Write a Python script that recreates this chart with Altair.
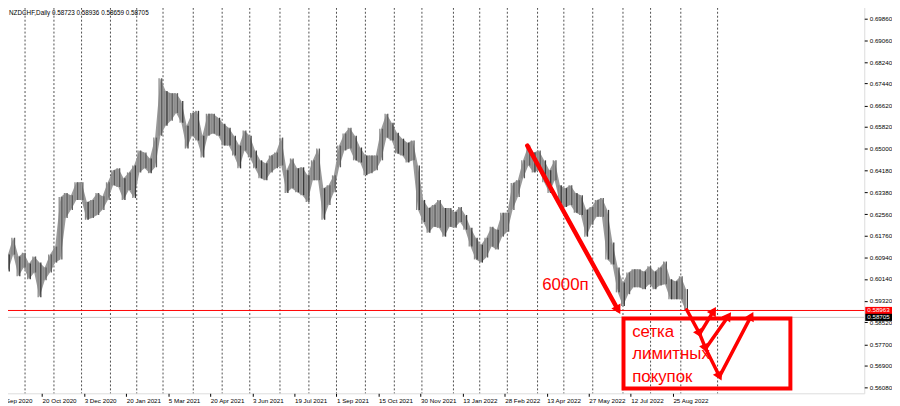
import math
import altair as alt
import pandas as pd

# ---- price data: high / low of consecutive 4-day groups of daily bars
hi = [0.6142, 0.6105, 0.6168, 0.6098, 0.6112, 0.6072, 0.6098, 0.6075, 0.6057, 0.6105,
      0.6135, 0.6320, 0.6335, 0.6327, 0.6375, 0.6375, 0.6301, 0.6309, 0.6335, 0.6323,
      0.6375, 0.6420, 0.6427, 0.6390, 0.6412, 0.6438, 0.6494, 0.6486, 0.6464, 0.6542,
      0.6764, 0.6716, 0.6708, 0.6708, 0.6679, 0.6586, 0.6634, 0.6642, 0.6549, 0.6631,
      0.6631, 0.6616, 0.6594, 0.6579, 0.6549, 0.6512, 0.6568, 0.6549, 0.6494, 0.6457,
      0.6446, 0.6475, 0.6486, 0.6542, 0.6420, 0.6464, 0.6427, 0.6431, 0.6401, 0.6457,
      0.6501, 0.6353, 0.6364, 0.6401, 0.6512, 0.6557, 0.6579, 0.6549, 0.6505, 0.6475,
      0.6475, 0.6475, 0.6575, 0.6631, 0.6597, 0.6560, 0.6538, 0.6523, 0.6531, 0.6438,
      0.6309, 0.6279, 0.6290, 0.6309, 0.6279, 0.6279, 0.6264, 0.6283, 0.6253, 0.6205,
      0.6168, 0.6142, 0.6168, 0.6209, 0.6198, 0.6261, 0.6261, 0.6372, 0.6383, 0.6457,
      0.6512, 0.6486, 0.6494, 0.6457, 0.6420, 0.6457, 0.6364, 0.6353, 0.6364, 0.6335,
      0.6327, 0.6272, 0.6283, 0.6309, 0.6316, 0.6272, 0.6150, 0.6057, 0.6001, 0.6038,
      0.6050, 0.6050, 0.6042, 0.6061, 0.6042, 0.6057, 0.6079, 0.6013, 0.6005, 0.6024,
      0.5976]
lo = [0.6061, 0.6042, 0.6105, 0.6024, 0.6057, 0.6013, 0.6038, 0.5946, 0.6009, 0.6038,
      0.6075, 0.6087, 0.6242, 0.6272, 0.6309, 0.6309, 0.6235, 0.6242, 0.6253, 0.6272,
      0.6309, 0.6364, 0.6357, 0.6309, 0.6346, 0.6316, 0.6412, 0.6427, 0.6409, 0.6431,
      0.6549, 0.6586, 0.6605, 0.6634, 0.6597, 0.6501, 0.6549, 0.6531, 0.6468, 0.6549,
      0.6557, 0.6549, 0.6512, 0.6512, 0.6475, 0.6427, 0.6494, 0.6468, 0.6427, 0.6390,
      0.6383, 0.6412, 0.6427, 0.6438, 0.6335, 0.6353, 0.6338, 0.6327, 0.6301, 0.6383,
      0.6383, 0.6235, 0.6290, 0.6338, 0.6431, 0.6494, 0.6501, 0.6457, 0.6449, 0.6401,
      0.6409, 0.6420, 0.6457, 0.6542, 0.6531, 0.6483, 0.6475, 0.6449, 0.6457, 0.6272,
      0.6227, 0.6187, 0.6209, 0.6205, 0.6172, 0.6209, 0.6205, 0.6227, 0.6198, 0.6135,
      0.6087, 0.6075, 0.6094, 0.6135, 0.6124, 0.6172, 0.6190, 0.6272, 0.6320, 0.6390,
      0.6438, 0.6412, 0.6420, 0.6375, 0.6335, 0.6383, 0.6298, 0.6283, 0.6290, 0.6261,
      0.6253, 0.6172, 0.6216, 0.6246, 0.6246, 0.6087, 0.6068, 0.5964, 0.5913, 0.5957,
      0.5983, 0.5983, 0.5976, 0.5994, 0.5976, 0.5990, 0.5994, 0.5938, 0.5938, 0.5938,
      0.5894]
BARS_PER_GROUP = 4

# ---- axes
date_labels = ["4 Sep 2020", "20 Oct 2020", "3 Dec 2020", "20 Jan 2021", "5 Mar 2021",
               "20 Apr 2021", "3 Jun 2021", "19 Jul 2021", "1 Sep 2021", "15 Oct 2021",
               "30 Nov 2021", "13 Jan 2022", "28 Feb 2022", "13 Apr 2022", "27 May 2022",
               "12 Jul 2022", "25 Aug 2022"]
LABEL_STEP = 32
price_ticks = [0.6986, 0.6906, 0.6824, 0.6744, 0.6662, 0.6582, 0.6500, 0.6418, 0.6338,
               0.6256, 0.6176, 0.6094, 0.6014, 0.5932, 0.5852, 0.5770, 0.5690, 0.5608]
month_starts = [19, 41, 62, 84, 104, 124, 147, 169, 190, 213, 235, 256, 278, 300, 321,
                345, 365, 386, 409, 429, 451, 474, 495, 518, 546]

# ---- price lines / tags
ask_price = 0.58963
bid_price = 0.58705
title_text = "NZDCHF,Daily  0.58723 0.58936 0.58659 0.58705"

# ---- annotations (bar index, price)
big_arrow = [(401.2, 0.6512, 470.3, 0.5898)]
zigzag = [
    (522.5, 0.5899, 532.4, 0.5809),
    (532.4, 0.5809, 543.0, 0.5895),
    (532.4, 0.5809, 536.9, 0.5754),
    (536.9, 0.5754, 554.3, 0.5876),
    (536.9, 0.5754, 547.5, 0.5650),
    (547.5, 0.5650, 571.6, 0.5876),
]
texts = [
    ("6000п", 412.5, 0.5972),
    ("сетка", 481.0, 0.5798),
    ("лимитных", 481.0, 0.5716),
    ("покупок", 481.0, 0.5631),
]
box = (474.4, 0.5866, 601.4, 0.5605)

W, H = 872, 393
X0, X1 = 0.0, 657.6
Y0, Y1 = 0.55869, 0.70415
FONT = "Liberation Sans"
RED = "#ff0000"

n = len(hi)
rows = []
for i in range(n):
    s = i * BARS_PER_GROUP
    mid_now = (hi[i] + lo[i]) / 2
    mid_prev = (hi[i - 1] + lo[i - 1]) / 2 if i else mid_now
    rows.append({"start": s, "end": s + BARS_PER_GROUP, "mid": s + BARS_PER_GROUP / 2,
                 "q1": s + 1, "q3": s + 3,
                 "hi": hi[i], "lo": lo[i], "up": mid_now >= mid_prev})
bars = pd.DataFrame(rows)

xs = alt.Scale(domain=[X0, X1], nice=False, zero=False)
ys = alt.Scale(domain=[Y0, Y1], nice=False, zero=False)

kx = W / (X1 - X0)
ky = H / (Y1 - Y0)

x_axis = alt.Axis(values=[k * LABEL_STEP for k in range(len(date_labels))],
                  labelExpr="%s[round(datum.value/%d)]" % (str(date_labels), LABEL_STEP),
                  labelAlign="left", labelFont=FONT, labelFontSize=6.3, labelColor="#000",
                  labelPadding=1, labelFlush=False, labelOverlap=False, tickSize=3,
                  tickColor="#000", domain=False, grid=False, title=None)
y_axis = alt.Axis(orient="right", values=price_ticks, format=".5f", labelFont=FONT,
                  labelFontSize=6.3, labelColor="#000", labelPadding=2, tickSize=3,
                  labelOverlap=False, labelFlush=False, labelBound=False,
                  tickColor="#000", domain=False, grid=False, title=None)


def X(field):
    return alt.X(field, scale=xs, axis=x_axis)


def Y(field):
    return alt.Y(field, scale=ys, axis=y_axis)


grid = alt.Chart(pd.DataFrame({"m": month_starts})).mark_rule(
    color="#222", strokeWidth=0.8, strokeDash=[2, 2]
).encode(x=X("m:Q"))

price_band = alt.Chart(bars).mark_area(color="#9a9a9a", interpolate="linear").encode(
    x=X("mid:Q"), y=Y("lo:Q"), y2="hi:Q")
price_light = alt.Chart(bars).mark_rule(strokeWidth=1.3, color="#8a8a8a").encode(
    x=X("q1:Q"), y=Y("lo:Q"), y2="hi:Q")
price_dark = alt.Chart(bars).mark_rule(strokeWidth=1.3).encode(
    x=X("q3:Q"), y=Y("lo:Q"), y2="hi:Q",
    color=alt.Color("up:N", scale=alt.Scale(domain=[True, False], range=["#5c5c5c", "#3a3a3a"]),
                    legend=None))

lines = alt.Chart(pd.DataFrame({"p": [bid_price, ask_price], "c": ["#c8c8c8", RED]})).mark_rule(
    strokeWidth=1).encode(y=Y("p:Q"), color=alt.Color("c:N", scale=None))

tag_h = 3.6 / ky
tags_df = pd.DataFrame({"p": [ask_price, bid_price], "c": [RED, "#000"],
                        "t": ["%.5f" % ask_price, "%.5f" % bid_price]})
tags_df["a"] = tags_df["p"] + tag_h
tags_df["b"] = tags_df["p"] - tag_h
tag_rect = alt.Chart(tags_df).mark_rect().encode(
    x=alt.value(W + 1), x2=alt.value(W + 28), y=Y("a:Q"), y2="b:Q",
    color=alt.Color("c:N", scale=None))
tag_text = alt.Chart(tags_df).mark_text(align="left", baseline="middle", font=FONT,
                                        fontSize=6.3, color="#fff").encode(
    x=alt.value(W + 3), y=Y("p:Q"), text="t:N")

title = alt.Chart(pd.DataFrame({"t": [title_text]})).mark_text(
    align="left", baseline="alphabetic", font=FONT, fontSize=6.4, color="#000"
).encode(x=alt.value(9), y=alt.value(11), text="t:N")

# arrows
segs = big_arrow + zigzag
seg_df = pd.DataFrame(segs, columns=["x1", "y1", "x2", "y2"])
seg_df["w"] = [4.5] + [3.5] * len(zigzag)
seg_df["ang"] = [
    (math.degrees(math.atan2((r.x2 - r.x1) * kx, (r.y2 - r.y1) * ky)) % 360)
    for r in seg_df.itertuples()]
shafts = alt.Chart(seg_df).mark_rule(color=RED, strokeCap="round").encode(
    x=X("x1:Q"), y=Y("y1:Q"), x2="x2:Q", y2="y2:Q",
    strokeWidth=alt.StrokeWidth("w:Q", scale=None))
heads = alt.Chart(seg_df).mark_point(shape="triangle-up", filled=True, color=RED,
                                     opacity=1, size=110).encode(
    x=X("x2:Q"), y=Y("y2:Q"),
    angle=alt.Angle("ang:Q", scale=None))

text_df = pd.DataFrame(texts, columns=["t", "x", "y"])
ann_text = alt.Chart(text_df).mark_text(align="left", baseline="alphabetic", font=FONT,
                                        fontSize=17, color=RED).encode(
    x=X("x:Q"), y=Y("y:Q"), text="t:N")

box_df = pd.DataFrame([box], columns=["x1", "y1", "x2", "y2"])
box_mark = alt.Chart(box_df).mark_rect(fill=None, stroke=RED, strokeWidth=4).encode(
    x=X("x1:Q"), y=Y("y1:Q"), x2="x2:Q", y2="y2:Q")

chart = alt.layer(
    grid, price_band, price_light, price_dark, lines, box_mark, shafts, heads, ann_text,
    tag_rect, tag_text, title
).properties(
    width=W, height=H,
    padding={"left": -8, "top": -6, "right": 28, "bottom": 11},
    autosize=alt.AutoSizeParams(type="none"),
).configure_view(stroke="#444", strokeWidth=1).configure_axis(
    labelOverlap=False
).configure(background="#ffffff")

chart.save("out.html", embed_options={"renderer": "svg", "actions": False})
